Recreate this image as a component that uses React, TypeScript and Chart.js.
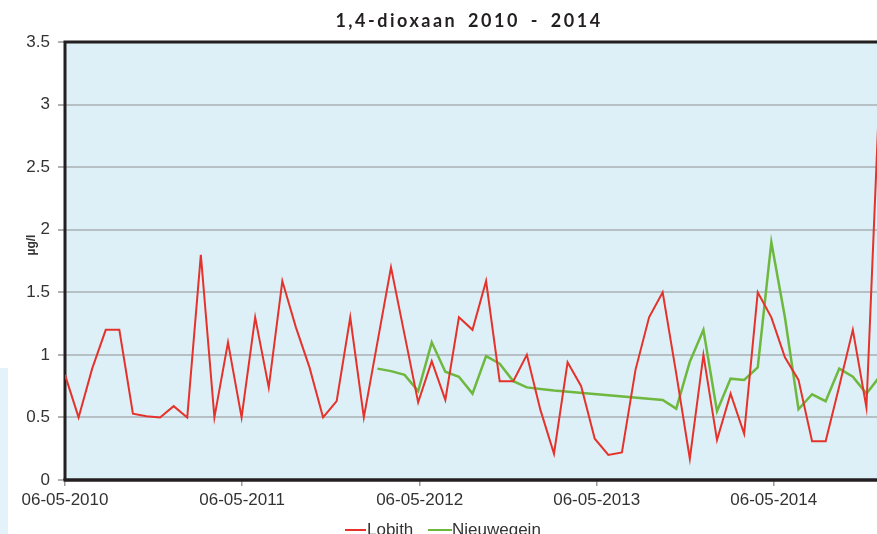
import React, { useEffect, useRef } from 'react';
import { Chart, registerables } from 'chart.js';

Chart.register(...registerables);

const TITLE = '1,4-dioxaan 2010 - 2014';
const Y_TITLE = 'µg/l';
const START_DATE = '2010-05-06';
const END_DATE = '2014-12-11';

const X_TICK_DATES = ['2010-05-06', '2011-05-06', '2012-05-06', '2013-05-06', '2014-05-06'];
const X_TICK_LABELS = ['06-05-2010', '06-05-2011', '06-05-2012', '06-05-2013', '06-05-2014'];

const Y_MIN = 0;
const Y_MAX = 3.5;
const Y_STEP = 0.5;

const LOBITH_LABEL = 'Lobith';
const LOBITH_DATES = [
  '2010-05-06', '2010-06-03', '2010-07-01', '2010-07-29', '2010-08-26', '2010-09-23',
  '2010-10-21', '2010-11-18', '2010-12-16', '2011-01-13', '2011-02-10', '2011-03-10',
  '2011-04-07', '2011-05-05', '2011-06-02', '2011-06-30', '2011-07-28', '2011-08-25',
  '2011-09-22', '2011-10-20', '2011-11-17', '2011-12-15', '2012-01-12', '2012-02-09',
  '2012-03-08', '2012-04-05', '2012-05-03', '2012-05-31', '2012-06-28', '2012-07-26',
  '2012-08-23', '2012-09-20', '2012-10-18', '2012-11-15', '2012-12-13', '2013-01-10',
  '2013-02-07', '2013-03-07', '2013-04-04', '2013-05-02', '2013-05-30', '2013-06-27',
  '2013-07-25', '2013-08-22', '2013-09-19', '2013-10-17', '2013-11-14', '2013-12-12',
  '2014-01-09', '2014-02-06', '2014-03-06', '2014-04-03', '2014-05-01', '2014-05-29',
  '2014-06-26', '2014-07-24', '2014-08-21', '2014-09-18', '2014-10-16', '2014-11-13',
  '2014-12-11',
];
const LOBITH_VALUES = [
  0.84, 0.5, 0.89, 1.2, 1.2, 0.53,
  0.51, 0.5, 0.59, 0.5, 1.8, 0.5,
  1.1, 0.5, 1.3, 0.74, 1.59, 1.22,
  0.9, 0.5, 0.63, 1.3, 0.5, 1.1,
  1.7, 1.16, 0.62, 0.95, 0.64, 1.3,
  1.2, 1.59, 0.79, 0.79, 1.0, 0.56,
  0.21, 0.94, 0.75, 0.33, 0.2, 0.22,
  0.88, 1.3, 1.5, 0.85, 0.17, 1.0,
  0.32, 0.69, 0.37, 1.5, 1.3, 0.98,
  0.8, 0.31, 0.31, 0.75, 1.2, 0.58,
  3.2,
];

const NIEUWEGEIN_LABEL = 'Nieuwegein';
const NIEUWEGEIN_DATES = [
  '2012-02-09', '2012-03-08', '2012-04-05', '2012-05-03', '2012-05-31', '2012-06-28',
  '2012-07-26', '2012-08-23', '2012-09-20', '2012-10-18', '2012-11-15', '2012-12-13',
  '2013-01-10', '2013-02-07', '2013-09-19', '2013-10-17', '2013-11-14', '2013-12-12',
  '2014-01-09', '2014-02-06', '2014-03-06', '2014-04-03', '2014-05-01', '2014-05-29',
  '2014-06-26', '2014-07-24', '2014-08-21', '2014-09-18', '2014-10-16', '2014-11-13',
  '2014-12-11',
];
const NIEUWEGEIN_VALUES = [
  0.89, 0.87, 0.84, 0.71, 1.1, 0.865,
  0.825, 0.69, 0.99, 0.93, 0.79, 0.74,
  0.727, 0.715, 0.64, 0.57, 0.945, 1.2,
  0.55, 0.81, 0.8, 0.9, 1.9, 1.3,
  0.565, 0.685, 0.63, 0.89, 0.825, 0.69,
  0.83,
];

const RED = '#e5322b';
const GREEN = '#6fb83f';
const TEXT = '#333333';
const PLOT_BG = '#ddf0f7';
const FRAME = '#231f20';

function dayNum(iso: string): number {
  const [y, m, d] = iso.split('-').map(Number);
  const [y0, m0, d0] = START_DATE.split('-').map(Number);
  return Math.round((Date.UTC(y, m - 1, d) - Date.UTC(y0, m0 - 1, d0)) / 86400000);
}

const plotFrame = {
  id: 'plotFrame',
  beforeDraw(chart: any) {
    const { ctx, chartArea } = chart;
    const { left, top, right, bottom } = chartArea;
    ctx.save();
    ctx.fillStyle = PLOT_BG;
    ctx.fillRect(left, top, right - left, bottom - top);
    ctx.restore();
  },
  beforeDatasetsDraw(chart: any) {
    const { ctx, chartArea } = chart;
    const { left, top, right, bottom } = chartArea;
    ctx.save();
    ctx.strokeStyle = FRAME;
    ctx.lineWidth = 3;
    ctx.beginPath();
    ctx.moveTo(left - 1.5, top);
    ctx.lineTo(right, top);
    ctx.moveTo(left, top);
    ctx.lineTo(left, bottom);
    ctx.moveTo(right, top);
    ctx.lineTo(right, bottom);
    ctx.stroke();
    ctx.lineWidth = 3.5;
    ctx.beginPath();
    ctx.moveTo(left - 1.5, bottom);
    ctx.lineTo(right + 1.5, bottom);
    ctx.stroke();
    ctx.restore();
  },
};

export default function App() {
  const canvasRef = useRef<HTMLCanvasElement | null>(null);

  useEffect(() => {
    const canvas = canvasRef.current;
    if (!canvas) return;
    const tickDays = X_TICK_DATES.map(dayNum);
    const chart = new Chart(canvas, {
      type: 'line',
      data: {
        datasets: [
          {
            label: LOBITH_LABEL,
            data: LOBITH_DATES.map((d, i) => ({ x: dayNum(d), y: LOBITH_VALUES[i] })),
            borderColor: RED,
            backgroundColor: RED,
            borderWidth: 2,
            pointRadius: 0,
            tension: 0,
          },
          {
            label: NIEUWEGEIN_LABEL,
            data: NIEUWEGEIN_DATES.map((d, i) => ({ x: dayNum(d), y: NIEUWEGEIN_VALUES[i] })),
            borderColor: GREEN,
            backgroundColor: GREEN,
            borderWidth: 2.5,
            pointRadius: 0,
            tension: 0,
          },
        ],
      },
      options: {
        responsive: false,
        animation: false,
        devicePixelRatio: 1,
        layout: { padding: { top: 42, left: 0, right: 5, bottom: 0 } },
        plugins: {
          legend: { display: false },
          title: { display: false },
          tooltip: { enabled: false },
        },
        scales: {
          x: {
            type: 'linear',
            min: 0,
            max: dayNum(END_DATE),
            afterBuildTicks: (axis: any) => {
              axis.ticks = tickDays.map((v) => ({ value: v }));
            },
            afterFit: (scale: any) => {
              scale.height = 54;
            },
            border: { display: false },
            grid: {
              drawOnChartArea: false,
              drawTicks: true,
              tickLength: 6,
              tickColor: '#9a9a9a',
              lineWidth: 1.5,
            },
            ticks: {
              autoSkip: false,
              maxRotation: 0,
              padding: 4,
              color: TEXT,
              font: { family: '"Liberation Sans", Arial, sans-serif', size: 17 },
              callback: (value: any) => {
                const i = tickDays.indexOf(Number(value));
                return i >= 0 ? X_TICK_LABELS[i] : '';
              },
            },
          },
          y: {
            type: 'linear',
            min: Y_MIN,
            max: Y_MAX,
            afterFit: (scale: any) => {
              scale.width = 65;
            },
            border: { display: false },
            grid: {
              color: '#b5bfc4',
              lineWidth: 2,
              drawTicks: true,
              tickLength: 7,
              tickColor: '#b0b0b0',
            },
            ticks: {
              stepSize: Y_STEP,
              padding: 8,
              color: TEXT,
              font: { family: '"Liberation Sans", Arial, sans-serif', size: 17 },
              callback: (value: any) => String(Number(value)),
            },
            title: { display: false },
          },
        },
      },
      plugins: [plotFrame],
    } as any);
    return () => chart.destroy();
  }, []);

  return (
    <div
      style={{
        position: 'fixed',
        left: 0,
        top: 0,
        width: 877,
        height: 534,
        overflow: 'hidden',
        background: '#ffffff',
      }}
    >
      <div
        style={{
          position: 'absolute',
          left: 0,
          top: 368,
          width: 8,
          height: 166,
          background: '#e4f2fa',
        }}
      />
      <canvas
        ref={canvasRef}
        width={885}
        height={534}
        style={{ position: 'absolute', left: 0, top: 0, width: 885, height: 534 }}
      />
      <div
        style={{
          position: 'absolute',
          left: 31,
          top: 245,
          width: 0,
          height: 0,
        }}
      >
        <div
          style={{
            position: 'absolute',
            left: -20,
            top: -8,
            width: 40,
            height: 16,
            lineHeight: '16px',
            textAlign: 'center',
            transform: 'rotate(-90deg)',
            fontFamily: '"Liberation Sans", Arial, sans-serif',
            fontWeight: 700,
            fontSize: 12,
            color: TEXT,
            whiteSpace: 'nowrap',
          }}
        >
          {Y_TITLE}
        </div>
      </div>
      <div
        style={{
          position: 'absolute',
          left: 169,
          top: 11,
          width: 600,
          textAlign: 'center',
          fontFamily: 'Lato, "Open Sans", sans-serif',
          fontWeight: 700,
          fontSize: 18,
          lineHeight: '18px',
          letterSpacing: '2.5px',
          wordSpacing: '4px',
          color: FRAME,
          whiteSpace: 'nowrap',
        }}
      >
        {TITLE}
      </div>
      <div style={{ position: 'absolute', left: 345, top: 528.5, width: 21, height: 2, background: RED }} />
      <div
        style={{
          position: 'absolute',
          left: 367,
          top: 520.5,
          fontFamily: '"Liberation Sans", Arial, sans-serif',
          fontSize: 17,
          lineHeight: '17px',
          color: TEXT,
          whiteSpace: 'nowrap',
        }}
      >
        {LOBITH_LABEL}
      </div>
      <div style={{ position: 'absolute', left: 428, top: 528.5, width: 24, height: 2.5, background: GREEN }} />
      <div
        style={{
          position: 'absolute',
          left: 452,
          top: 520.5,
          fontFamily: '"Liberation Sans", Arial, sans-serif',
          fontSize: 17,
          lineHeight: '17px',
          color: TEXT,
          whiteSpace: 'nowrap',
        }}
      >
        {NIEUWEGEIN_LABEL}
      </div>
    </div>
  );
}
